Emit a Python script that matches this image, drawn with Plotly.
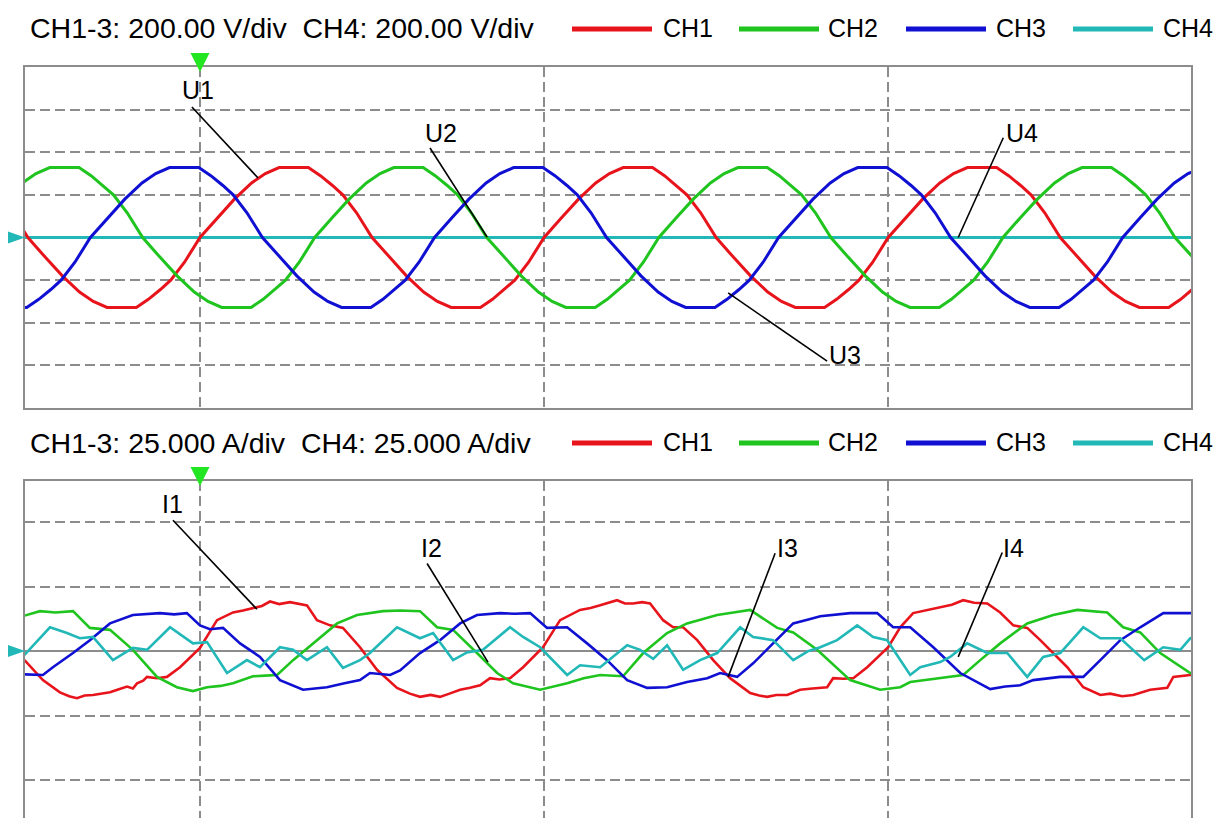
import plotly.graph_objects as go

# ---------------- data (time in ms, 20 ms/div; amplitude in divisions) ----------------
X_RANGE = [-10.17, 57.6]

# Voltages (200 V/div) as (t, value) vertices
u1 = [(-10.9, 0.58),
      (-10, 0), (-9, -0.46), (-8, -0.90), (-7, -1.28), (-6.2, -1.50), (-5.4, -1.64), (-3.7, -1.64), (-3.0, -1.45), (-2.3, -1.22), (-1.7, -1.00), (-0.9, -0.58),
      (0, 0), (1, 0.46), (2, 0.90), (3, 1.28), (3.8, 1.50), (4.6, 1.64), (6.3, 1.64), (7.0, 1.45), (7.7, 1.22), (8.3, 1.00), (9.1, 0.58),
      (10, 0), (11, -0.46), (12, -0.90), (13, -1.28), (13.8, -1.50), (14.6, -1.64), (16.3, -1.64), (17.0, -1.45), (17.7, -1.22), (18.3, -1.00), (19.1, -0.58),
      (20, 0), (21, 0.46), (22, 0.90), (23, 1.28), (23.8, 1.50), (24.6, 1.64), (26.3, 1.64), (27.0, 1.45), (27.7, 1.22), (28.3, 1.00), (29.1, 0.58),
      (30, 0), (31, -0.46), (32, -0.90), (33, -1.28), (33.8, -1.50), (34.6, -1.64), (36.3, -1.64), (37.0, -1.45), (37.7, -1.22), (38.3, -1.00), (39.1, -0.58),
      (40, 0), (41, 0.46), (42, 0.90), (43, 1.28), (43.8, 1.50), (44.6, 1.64), (46.3, 1.64), (47.0, 1.45), (47.7, 1.22), (48.3, 1.00), (49.1, 0.58),
      (50, 0), (51, -0.46), (52, -0.90), (53, -1.28), (53.8, -1.50), (54.6, -1.64), (56.3, -1.64), (57.0, -1.45), (57.7, -1.22), (58.3, -1.00)]

u2 = [(-13.33, 0), (-12.33, 0.46), (-11.33, 0.90), (-10.33, 1.28), (-9.53, 1.50), (-8.73, 1.64), (-7.03, 1.64), (-6.33, 1.45), (-5.63, 1.22), (-5.03, 1.00), (-4.23, 0.58),
      (-3.33, 0), (-2.33, -0.46), (-1.33, -0.90), (-0.33, -1.28), (0.47, -1.50), (1.27, -1.64), (2.97, -1.64), (3.67, -1.45), (4.37, -1.22), (4.97, -1.00), (5.77, -0.58),
      (6.67, 0), (7.67, 0.46), (8.67, 0.90), (9.67, 1.28), (10.47, 1.50), (11.27, 1.64), (12.97, 1.64), (13.67, 1.45), (14.37, 1.22), (14.97, 1.00), (15.77, 0.58),
      (16.67, 0), (17.67, -0.46), (18.67, -0.90), (19.67, -1.28), (20.47, -1.50), (21.27, -1.64), (22.97, -1.64), (23.67, -1.45), (24.37, -1.22), (24.97, -1.00), (25.77, -0.58),
      (26.67, 0), (27.67, 0.46), (28.67, 0.90), (29.67, 1.28), (30.47, 1.50), (31.27, 1.64), (32.97, 1.64), (33.67, 1.45), (34.37, 1.22), (34.97, 1.00), (35.77, 0.58),
      (36.67, 0), (37.67, -0.46), (38.67, -0.90), (39.67, -1.28), (40.47, -1.50), (41.27, -1.64), (42.97, -1.64), (43.67, -1.45), (44.37, -1.22), (44.97, -1.00), (45.77, -0.58),
      (46.67, 0), (47.67, 0.46), (48.67, 0.90), (49.67, 1.28), (50.47, 1.50), (51.27, 1.64), (52.97, 1.64), (53.67, 1.45), (54.37, 1.22), (54.97, 1.00), (55.77, 0.58),
      (56.67, 0), (57.67, -0.46), (58.67, -0.90)]

u3 = [(-11.77, -1.64), (-10.07, -1.64), (-9.37, -1.45), (-8.67, -1.22), (-8.07, -1.00), (-7.27, -0.58),
      (-6.37, 0), (-5.37, 0.46), (-4.37, 0.90), (-3.37, 1.28), (-2.57, 1.50), (-1.77, 1.64), (-0.07, 1.64), (0.63, 1.45), (1.33, 1.22), (1.93, 1.00), (2.73, 0.58),
      (3.63, 0), (4.63, -0.46), (5.63, -0.90), (6.63, -1.28), (7.43, -1.50), (8.23, -1.64), (9.93, -1.64), (10.63, -1.45), (11.33, -1.22), (11.93, -1.00), (12.73, -0.58),
      (13.63, 0), (14.63, 0.46), (15.63, 0.90), (16.63, 1.28), (17.43, 1.50), (18.23, 1.64), (19.93, 1.64), (20.63, 1.45), (21.33, 1.22), (21.93, 1.00), (22.73, 0.58),
      (23.63, 0), (24.63, -0.46), (25.63, -0.90), (26.63, -1.28), (27.43, -1.50), (28.23, -1.64), (29.93, -1.64), (30.63, -1.45), (31.33, -1.22), (31.93, -1.00), (32.73, -0.58),
      (33.63, 0), (34.63, 0.46), (35.63, 0.90), (36.63, 1.28), (37.43, 1.50), (38.23, 1.64), (39.93, 1.64), (40.63, 1.45), (41.33, 1.22), (41.93, 1.00), (42.73, 0.58),
      (43.63, 0), (44.63, -0.46), (45.63, -0.90), (46.63, -1.28), (47.43, -1.50), (48.23, -1.64), (49.93, -1.64), (50.63, -1.45), (51.33, -1.22), (51.93, -1.00), (52.73, -0.58),
      (53.63, 0), (54.63, 0.46), (55.63, 0.90), (56.63, 1.28), (57.43, 1.50), (58.23, 1.64)]

u4 = [(-10.17, 0.0), (57.6, 0.0)]

# Currents (25 A/div)
i1 = [(-10.2, -0.14), (-9.13, -0.45), (-8.14, -0.64), (-7.6, -0.70), (-7.15, -0.73), (-6.7, -0.69), (-6.22, -0.68),
      (-5.7, -0.66), (-5.23, -0.64), (-4.8, -0.60), (-4.24, -0.55), (-3.9, -0.58), (-3.66, -0.50), (-3.3, -0.46),
      (-3.08, -0.40), (-2.5, -0.42), (-1.92, -0.40), (-1.16, -0.25), (0, 0.05), (0.99, 0.48), (1.92, 0.60),
      (2.5, 0.63), (3.08, 0.67), (3.6, 0.70), (4.07, 0.77), (4.6, 0.73), (5.23, 0.76), (5.7, 0.74), (6.22, 0.71),
      (6.8, 0.48), (7.56, 0.40), (8.31, 0.36), (9.30, 0.06), (10.29, -0.29), (11.45, -0.57), (12.2, -0.66),
      (12.79, -0.71), (13.4, -0.68), (13.95, -0.71), (14.5, -0.66), (15.12, -0.60), (15.7, -0.57), (16.28, -0.53),
      (16.86, -0.42), (17.4, -0.44), (18.02, -0.42), (18.78, -0.25), (19.94, 0.06), (20.93, 0.48), (22.09, 0.64),
      (22.7, 0.67), (23.26, 0.71), (23.8, 0.75), (24.24, 0.79), (24.7, 0.74), (25.17, 0.74), (25.7, 0.76),
      (26.16, 0.74), (26.92, 0.48), (27.50, 0.37), (28.08, 0.37), (28.90, 0.17), (29.83, -0.14), (30.81, -0.42),
      (31.98, -0.65), (32.5, -0.69), (32.97, -0.71), (33.5, -0.68), (34.13, -0.68), (34.88, -0.60), (35.6, -0.58),
      (36.45, -0.56), (36.80, -0.42), (37.4, -0.43), (37.97, -0.42), (38.78, -0.25), (40.00, 0.06), (40.70, 0.37),
      (41.45, 0.59), (42.2, 0.63), (43.02, 0.68), (43.7, 0.72), (44.36, 0.79), (45.0, 0.75), (45.76, 0.74),
      (46.51, 0.60), (47.27, 0.40), (48.08, 0.36), (48.84, 0.17), (49.59, -0.03), (50.41, -0.25), (51.34, -0.56),
      (52.33, -0.68), (52.9, -0.66), (53.6, -0.70), (54.24, -0.68), (54.8, -0.63), (55.23, -0.60), (56.22, -0.57),
      (56.57, -0.40), (57.56, -0.37), (58.0, -0.36)]

i2 = [(-10.2, 0.55), (-9.30, 0.62), (-8.4, 0.60), (-7.38, 0.62), (-6.40, 0.36), (-5.23, 0.33), (-3.90, 0.02),
      (-2.50, -0.40), (-1.34, -0.56), (-0.41, -0.62), (0.41, -0.56), (1.2, -0.54), (1.92, -0.50), (3.08, -0.39),
      (3.8, -0.38), (4.48, -0.37), (5.41, -0.14), (6.57, 0.12), (7.97, 0.43), (9.13, 0.56), (10.64, 0.62),
      (11.63, 0.63), (12.79, 0.62), (13.78, 0.37), (14.71, 0.33), (16.10, -0.03), (17.27, -0.34), (18.20, -0.50),
      (19.77, -0.60), (21.34, -0.50), (22.3, -0.42), (23.26, -0.37), (24.59, -0.39), (25.76, -0.03), (27.15, 0.28),
      (28.31, 0.43), (30.06, 0.56), (31.0, 0.60), (31.98, 0.64), (33.55, 0.36), (34.48, 0.29), (35.87, 0.02),
      (37.79, -0.45), (39.53, -0.60), (40.70, -0.56), (41.28, -0.48), (42.3, -0.44), (43.43, -0.40), (44.36, -0.37),
      (45.35, -0.14), (46.51, 0.12), (48.08, 0.43), (49.59, 0.56), (50.99, 0.64), (51.9, 0.62), (52.73, 0.60),
      (53.66, 0.37), (54.65, 0.29), (55.81, -0.03), (57.56, -0.34), (58.0, -0.40)]

i3 = [(-10.2, -0.36), (-9.13, -0.37), (-8.55, -0.25), (-7.38, -0.03), (-6.40, 0.17), (-5.23, 0.43), (-3.90, 0.56),
      (-2.33, 0.59), (-1.5, 0.57), (-0.76, 0.59), (0, 0.40), (0.58, 0.34), (1.34, 0.36), (2.33, 0.12), (3.49, -0.09),
      (4.65, -0.45), (5.99, -0.60), (7.38, -0.56), (8.4, -0.50), (9.30, -0.45), (9.88, -0.34), (11.05, -0.37),
      (11.63, -0.30), (12.79, -0.03), (13.95, 0.17), (15.12, 0.43), (16.10, 0.56), (17.44, 0.59), (18.3, 0.58),
      (19.19, 0.59), (20.17, 0.36), (21.34, 0.37), (22.50, 0.12), (23.66, -0.14), (24.83, -0.45), (25.99, -0.57),
      (27.15, -0.56), (28.31, -0.48), (29.48, -0.42), (30.23, -0.34), (31.22, -0.40), (32.15, -0.19), (33.31, 0.12),
      (34.48, 0.43), (35.47, 0.50), (36.05, 0.54), (37.79, 0.59), (39.36, 0.59), (40.29, 0.37), (41.28, 0.37),
      (42.62, 0.06), (44.19, -0.34), (45.93, -0.59), (46.8, -0.55), (47.67, -0.53), (48.43, -0.45), (50.00, -0.40),
      (51.34, -0.40), (52.33, -0.14), (53.49, 0.17), (54.65, 0.37), (55.99, 0.59), (57.56, 0.59), (58.0, 0.60)]

i4 = [(-10.2, -0.06), (-8.72, 0.37), (-7.73, 0.28), (-6.98, 0.20), (-6.22, 0.22), (-5.06, -0.14), (-3.90, 0.05),
      (-3.08, 0.02), (-1.74, 0.37), (-0.41, 0.12), (0.41, 0.14), (1.57, -0.34), (2.73, -0.14), (3.49, -0.25),
      (4.65, 0.06), (5.41, 0.02), (6.22, -0.14), (7.38, 0.06), (8.31, -0.26), (9.30, -0.14), (9.88, -0.03),
      (11.45, 0.37), (12.79, 0.20), (13.55, 0.28), (14.71, -0.14), (15.52, -0.02), (16.45, 0.02), (18.02, 0.37),
      (18.78, 0.22), (19.77, 0.06), (21.34, -0.37), (22.09, -0.22), (23.26, -0.25), (24.83, 0.09), (25.58, 0.02),
      (26.34, -0.12), (27.15, 0.09), (28.08, -0.29), (29.07, -0.14), (30.06, -0.03), (31.40, 0.37), (32.15, 0.22),
      (33.31, 0.17), (34.48, -0.14), (35.35, 0.00), (36.05, 0.06), (37.03, 0.17), (38.20, 0.40), (39.13, 0.22),
      (39.94, 0.17), (41.28, -0.37), (41.86, -0.25), (43.02, -0.17), (43.60, -0.09), (44.59, 0.12), (45.76, -0.03),
      (46.92, -0.03), (48.08, -0.40), (49.01, -0.09), (50.00, -0.03), (51.34, 0.37), (52.33, 0.20), (53.49, 0.20),
      (54.88, -0.14), (55.99, 0.06), (56.98, 0.02), (57.56, 0.20), (58.0, 0.22)]

channels = ["CH1", "CH2", "CH3", "CH4"]
colors = ["#e8141c", "#1fc41f", "#1010d2", "#22b8b8"]
voltages = [u1, u2, u3, u4]
currents = [i1, i2, i3, i4]

header_top = "CH1-3: 200.00 V/div\u00a0\u00a0CH4: 200.00 V/div"
header_bot = "CH1-3: 25.000 A/div\u00a0\u00a0CH4: 25.000 A/div"

# labels: (text, text_x, text_y, line_x0, line_y0, line_x1, line_y1)
labels_top = [("U1", -0.12, 3.46, -0.47, 3.06, 3.37, 1.40),
              ("U2", 14.01, 2.45, 13.37, 2.10, 16.69, 0.01),
              ("U3", 37.5, -2.76, 36.45, -2.90, 30.70, -1.30),
              ("U4", 47.79, 2.45, 46.69, 2.34, 44.07, 0.0)]
labels_bot = [("I1", -1.57, 2.29, -1.57, 2.03, 3.31, 0.65),
              ("I2", 13.43, 1.60, 13.20, 1.36, 16.74, -0.17),
              ("I3", 34.13, 1.60, 33.43, 1.52, 30.70, -0.40),
              ("I4", 47.27, 1.60, 46.63, 1.53, 44.07, -0.09)]

# ---------------- figure ----------------
W, H = 1219, 818
PL, PR = 25, 1191
FONT = "Liberation Sans, Arial, Helvetica, sans-serif"
GRID = "#8c8c8c"


def px2x(px):
    return (px - PL) / (PR - PL)


def py2y(py):
    return 1 - py / H


fig = go.Figure()

order = [3, 0, 1, 2]
for k in order:
    pts = voltages[k]
    fig.add_trace(go.Scatter(x=[p[0] for p in pts], y=[p[1] for p in pts], mode="lines",
                             line=dict(color=colors[k], width=3), name=channels[k],
                             showlegend=False, xaxis="x", yaxis="y", hoverinfo="skip"))
for k in range(4):
    pts = currents[k]
    fig.add_trace(go.Scatter(x=[p[0] for p in pts], y=[p[1] for p in pts], mode="lines",
                             line=dict(color=colors[k], width=2.6), name=channels[k],
                             showlegend=False, xaxis="x2", yaxis="y2", hoverinfo="skip"))

axis_common = dict(showticklabels=False, ticks="", showgrid=True, gridcolor=GRID, gridwidth=2,
                   griddash="10px,5px", showline=True, linecolor=GRID, linewidth=2)

top_dom = [py2y(408), py2y(67)]
bot_dom = [0, py2y(481)]

fig.update_layout(
    width=W, height=H,
    margin=dict(l=PL, r=W - PR, t=0, b=0),
    paper_bgcolor="white", plot_bgcolor="white",
    font=dict(family=FONT, color="black"),
    xaxis=dict(**axis_common, domain=[0, 1], range=X_RANGE, tick0=0, dtick=20, mirror=True,
               zeroline=False, anchor="y"),
    yaxis=dict(**axis_common, domain=top_dom, range=[-4, 4], tick0=0, dtick=1, mirror=True,
               zeroline=True, zerolinecolor=GRID, zerolinewidth=2, anchor="x"),
    xaxis2=dict(**axis_common, domain=[0, 1], range=X_RANGE, tick0=0, dtick=20, side="top",
                mirror=False, zeroline=False, anchor="y2"),
    yaxis2=dict(**axis_common, domain=bot_dom, range=[-2.59, 2.64], tick0=0, dtick=1, mirror=True,
                zeroline=True, zerolinecolor=GRID, zerolinewidth=2, anchor="x2"),
)

annotations = []
shapes = []

# headers
for txt, py in [(header_top, 28), (header_bot, 443)]:
    annotations.append(dict(text=txt, xref="paper", yref="paper", x=px2x(28), y=py2y(py),
                            xanchor="left", yanchor="middle", showarrow=False,
                            font=dict(size=28.5, family=FONT, color="black")))

# legends (drawn for each panel)
leg_lines = [(572, 652, 661), (739, 819, 826), (906, 986, 994), (1073, 1153, 1161)]
for py in [29, 443]:
    for k, (x0, x1, xt) in enumerate(leg_lines):
        shapes.append(dict(type="line", xref="paper", yref="paper", x0=px2x(x0), x1=px2x(x1),
                           y0=py2y(py), y1=py2y(py), line=dict(color=colors[k], width=5)))
        annotations.append(dict(text=channels[k], xref="paper", yref="paper", x=px2x(xt), y=py2y(py - 1),
                                xanchor="left", yanchor="middle", showarrow=False,
                                font=dict(size=25, family=FONT, color="black")))

# labels with leader lines
for labs, xr, yr in [(labels_top, "x", "y"), (labels_bot, "x2", "y2")]:
    for txt, tx, ty, lx0, ly0, lx1, ly1 in labs:
        annotations.append(dict(text=txt, xref=xr, yref=yr, x=tx, y=ty, showarrow=False,
                                xanchor="center", yanchor="middle",
                                font=dict(size=25, family=FONT, color="black")))
        shapes.append(dict(type="line", xref=xr, yref=yr, x0=lx0, y0=ly0, x1=lx1, y1=ly1,
                           line=dict(color="black", width=1.6)))

# trigger (green) and zero-level (cyan) indicators
for py_frame in [67, 481]:
    shapes.append(dict(type="path", xref="paper", yref="paper", xsizemode="pixel", ysizemode="pixel",
                       xanchor=px2x(200), yanchor=py2y(py_frame),
                       path="M -9.5 14 L 9.5 14 L 0 -5 Z", fillcolor="#22e622", line=dict(width=0)))
for py_zero in [237.5, 651]:
    shapes.append(dict(type="path", xref="paper", yref="paper", xsizemode="pixel", ysizemode="pixel",
                       xanchor=px2x(25), yanchor=py2y(py_zero),
                       path="M -17 6 L -17 -6 L 0 0 Z", fillcolor="#22b8b8", line=dict(width=0)))

fig.update_layout(annotations=annotations, shapes=shapes)

fig.write_html("out.html",
               config={"displayModeBar": False, "staticPlot": True},
               post_script="document.body.style.margin='0px';document.body.style.padding='0px';"
                           "document.body.style.overflow='hidden';")
